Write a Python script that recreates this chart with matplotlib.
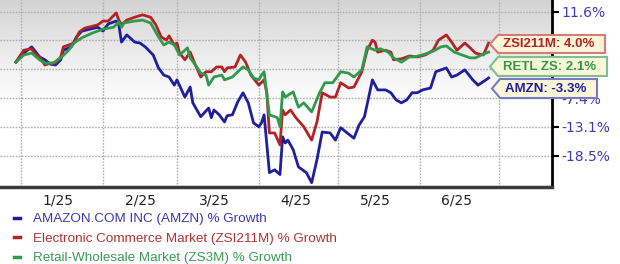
import numpy as np
import matplotlib
matplotlib.use("Agg")
import matplotlib.pyplot as plt
import matplotlib.dates as mdates
from matplotlib.colors import LinearSegmentedColormap
from matplotlib.patches import Polygon
from matplotlib.lines import Line2D

# days after 2025-01-01 and % growth
amzn_day = [-2, 1, 4, 5, 7, 9, 11, 13, 15, 16, 19, 21, 23, 26, 29, 31, 32, 33, 36, 37, 38, 40, 43, 45,
            47, 50, 52, 54, 56, 58, 59, 62, 64, 65, 68, 71, 72, 73, 75, 77, 78, 80, 82, 84, 86, 88,
            90, 91, 92, 94, 96, 98, 99, 100, 101, 103, 105, 108, 110, 112, 114, 117, 119,
            121, 123, 126, 128, 130, 133, 135, 138, 140, 142, 144, 146, 148, 150,
            152, 155, 157, 161, 163, 165, 168, 171, 173, 176, 177]
amzn_pct = [0.0, 1.9, 3.2, 2.5, 1.1, 0.5, -0.4, -0.6, 0.5, 2.5, 3.2, 5.3, 6.5, 6.9, 7.3, 6.5, 7.3, 8.0, 8.6, 7.8, 4.2, 5.7, 4.2, 4.0,
            3.2, 1.5, -1.2, -2.7, -3.1, -4.8, -3.7, -7.3, -5.2, -8.5, -11.4, -9.6, -11.6, -10.0, -11.0, -12.5, -11.2, -11.0, -8.3, -6.4, -8.5, -12.7,
            -13.5, -12.7, -11.0, -23.1, -22.5, -23.5, -15.6, -16.9, -16.3, -18.3, -21.9, -23.1, -25.2, -20.4, -14.6, -14.8, -16.3,
            -13.7, -14.6, -15.9, -13.1, -11.4, -3.7, -5.8, -5.8, -6.4, -7.9, -8.5, -7.9, -6.4, -6.4,
            -5.8, -5.4, -2.0, -1.2, -3.1, -2.7, -1.6, -3.7, -4.8, -3.7, -3.3]

ecom_day = [-2, 1, 4, 5, 7, 9, 11, 13, 15, 16, 20, 22, 24, 29, 31, 33, 36, 37, 38, 40, 43, 46,
            49, 51, 53, 55, 56, 58, 59, 60, 62, 64, 66, 68, 70, 72, 74, 76, 77, 78, 81, 83, 85, 87,
            90, 92, 93, 94, 96, 98, 99, 100, 102, 104, 107, 110, 112, 114, 117, 119,
            121, 124, 126, 129, 131, 133, 134, 135, 138, 140, 141, 144, 147, 150,
            153, 156, 158, 161, 163, 165, 168, 170, 172, 175, 177]
ecom_pct = [0.0, 2.5, 2.8, 1.9, 1.1, -0.6, -0.2, -0.2, 1.1, 3.2, 4.0, 6.3, 7.1, 7.8, 8.6, 8.6, 10.3, 8.8, 7.8, 8.8, 9.4, 9.9,
            9.4, 7.8, 5.3, 4.6, 5.5, 3.6, 4.0, 1.9, 0.5, 2.1, -0.6, -3.1, -2.0, -2.0, -1.0, -1.0, -2.0, -1.2, -1.0, 1.5, 0.0, -2.7,
            -4.8, -3.7, -6.4, -14.8, -14.8, -17.3, -10.0, -11.0, -10.0, -11.6, -13.5, -16.3, -12.5, -6.4, -7.3, -7.3,
            -4.3, -5.4, -5.2, -2.0, 2.5, 4.6, 4.2, 2.1, 2.5, 2.1, 0.5, 0.7, 1.3, 1.1,
            1.5, 2.5, 4.6, 5.7, 4.2, 2.5, 4.0, 3.0, 1.9, 1.5, 4.0]

retl_day = [-2, 1, 4, 7, 9, 12, 15, 18, 20, 23, 27, 31, 35, 37, 38, 39, 43, 46,
            49, 52, 54, 56, 58, 60, 63, 64, 66, 68, 70, 71, 73, 76, 77, 80, 82, 84, 86, 88,
            90, 91, 92, 94, 97, 98, 99, 100, 103, 105, 107, 110, 113, 115, 118,
            121, 124, 126, 129, 131, 134, 136, 139, 141, 144, 147, 149,
            153, 156, 159, 161, 164, 167, 170, 172, 175, 177]
retl_pct = [0.0, 1.5, 1.9, 0.5, -0.2, -0.2, 0.9, 2.5, 4.0, 5.1, 6.1, 6.9, 7.3, 8.4, 7.3, 8.2, 8.6, 8.8,
            8.2, 5.3, 3.6, 4.2, 3.6, 1.5, 3.0, 0.9, -0.6, -2.3, -2.7, -4.8, -3.1, -2.7, -3.7, -3.1, -2.0, -1.0, -1.6, -3.3,
            -3.7, -2.7, -2.0, -11.0, -11.6, -13.5, -6.2, -7.3, -6.2, -9.4, -8.5, -10.4, -6.4, -4.3, -4.3,
            -2.0, -2.3, -3.1, -1.6, 3.2, 2.5, 2.8, 2.1, 0.9, 0.0, 1.1, 1.1,
            1.7, 2.3, 3.2, 3.4, 2.1, 1.5, 0.9, 0.9, 1.7, 2.1]

legend_labels = ["AMAZON.COM INC (AMZN) % Growth",
                 "Electronic Commerce Market (ZSI211M) % Growth",
                 "Retail-Wholesale Market (ZS3M) % Growth"]
tag_texts = ["ZSI211M: 4.0%", "RETL ZS: 2.1%", "AMZN: -3.3%"]
ytick_vals = [10.5, 4.6, -1.4, -7.5, -13.5, -19.6]
ytick_labels = ["11.6%", "", "", "-7.4%", "-13.1%", "-18.5%"]
month_labels = ["1/25", "2/25", "3/25", "4/25", "5/25", "6/25"]

blue = "#1f1f9e"
red = "#b52424"
green = "#2f9a4c"

base = np.datetime64("2025-01-01")
def to_dates(days):
    return base + np.array(days).astype("timedelta64[D]")

W, H = 620, 264
fig = plt.figure(figsize=(W / 100, H / 100), dpi=100)
ax = fig.add_axes([0, 1 - 187 / H, 552 / W, 187 / H])

ylo, yhi = -26.1, 13.0

# background gradient (gray top -> white)
t = np.linspace(0, 1, 256)
grad = np.clip((t - 0.42) / 0.58, 0, 1) ** 1.2
cmap = LinearSegmentedColormap.from_list("bg", ["#ffffff", "#d3d3d3"])
ax.imshow(grad[::-1].reshape(-1, 1), cmap=cmap, aspect="auto", extent=[0, 1, 0, 1],
          transform=ax.transAxes, zorder=0, vmin=0, vmax=1)

months = [np.datetime64("2025-%02d-01" % m) for m in range(1, 8)]
mids = [np.datetime64("2025-%02d-15" % m) for m in range(1, 7)]

ax.plot(to_dates(amzn_day), amzn_pct, color=blue, lw=2.0, zorder=3)
ax.plot(to_dates(ecom_day), ecom_pct, color=red, lw=2.0, zorder=3)
ax.plot(to_dates(retl_day), retl_pct, color=green, lw=2.0, zorder=3)

# fine dotted grid
grid_style = dict(color="#b0b0b0", ls=(0, (1.2, 1.0)), lw=1.0, zorder=2)
for m in months:
    ax.plot([m, m], [ylo, yhi], **grid_style)
for v in ytick_vals:
    ax.axhline(v, **grid_style)

ax.set_xlim(np.datetime64("2024-12-24"), np.datetime64("2025-07-21"))
ax.set_ylim(ylo, yhi)

ax.set_xticks(mdates.date2num(months))
ax.set_xticklabels([])
ax.set_xticks(mdates.date2num(mids), minor=True)
ax.set_xticklabels(month_labels, minor=True, fontsize=10, color="#222222")
ax.tick_params(axis="x", which="both", length=0, pad=5)

ax.yaxis.tick_right()
ax.set_yticks(ytick_vals)
ax.set_yticklabels(ytick_labels)
ax.tick_params(axis="y", length=5, width=1.5, color="black", labelcolor="#3c3cb4",
               labelsize=10, pad=2, direction="out")

for s in ["left", "top"]:
    ax.spines[s].set_visible(False)
ax.spines["right"].set_color("black")
ax.spines["right"].set_linewidth(2)
ax.spines["bottom"].set_color("#3a3a3a")
ax.spines["bottom"].set_linewidth(2.5)

# end-value tags (pixel layout, y from top)
def draw_tag(x0, x1, ytop, ybot, edge, txtcolor, text):
    yc = (ytop + ybot) / 2
    pts = [(x0, yc), (x0 + 8, ytop), (x1, ytop), (x1, ybot), (x0 + 8, ybot)]
    pts = [(px / W, 1 - py / H) for px, py in pts]
    fig.patches.append(Polygon(pts, closed=True, transform=fig.transFigure,
                               facecolor="#fbf6d8", edgecolor=edge, lw=1.5, zorder=5))
    fig.text((x0 + 13) / W, 1 - yc / H, text, color=txtcolor, fontsize=9.5,
             fontweight="bold", family="Liberation Sans", va="center", ha="left", zorder=6)

draw_tag(490, 605, 35, 53, "#d77a7a", red, tag_texts[0])
draw_tag(490, 607, 57, 76, "#7cc08c", green, tag_texts[1])
draw_tag(492, 597, 79, 98, "#7a7ac4", blue, tag_texts[2])

handles = [Line2D([], [], color=c, lw=2.5) for c in [blue, red, green]]
leg = fig.legend(handles, legend_labels, loc="upper left", bbox_to_anchor=(14 / W, 1 - 213 / H),
                 frameon=False, handlelength=0.45, handletextpad=0.95, labelspacing=0.52,
                 borderpad=0, borderaxespad=0,
                 prop={"family": "Liberation Sans", "size": 9.7})
for txt, c in zip(leg.get_texts(), ["#3a3ab0", "#b03434", "#3a9a5a"]):
    txt.set_color(c)

fig.savefig("out.png", dpi=100)
